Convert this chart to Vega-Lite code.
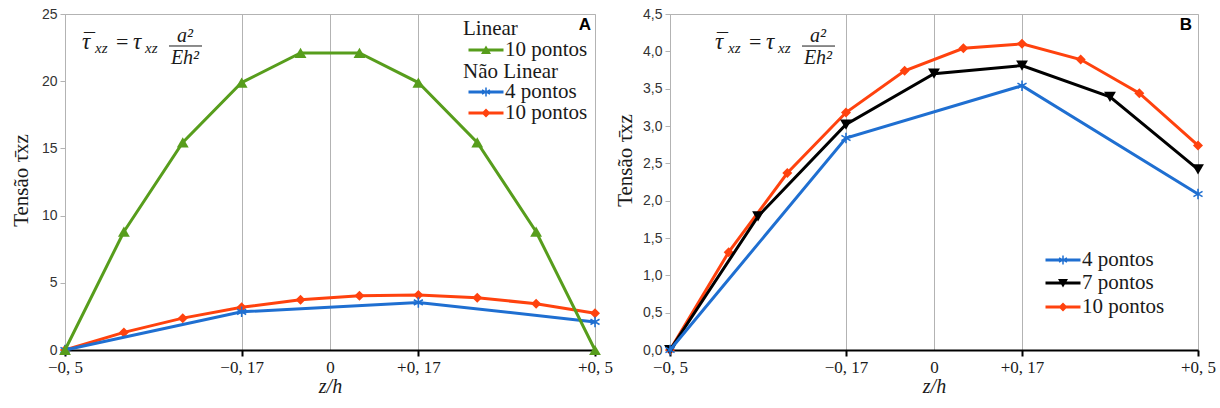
{
  "$schema": "https://vega.github.io/schema/vega-lite/v6.json",
  "background": "white",
  "padding": {"left": 9, "top": 6, "right": 2, "bottom": 2},
  "spacing": 75,
  "bounds": "flush",
  "config": {
    "view": {"stroke": "#b3b3b3", "strokeWidth": 1},
    "axisX": {
      "labelFont": "Liberation Serif", "labelFontSize": 17, "labelColor": "#1a1a1a", "labelPadding": 3,
      "labelFlush": false, "labelOverlap": false,
      "domainColor": "#000000", "domainWidth": 2, "tickColor": "#000000", "tickWidth": 2, "tickSize": 6,
      "grid": true, "gridColor": "#b3b3b3", "gridWidth": 1,
      "titleFont": "Liberation Serif", "titleFontStyle": "italic", "titleFontSize": 20, "titleFontWeight": "normal",
      "titleColor": "#1a1a1a", "titlePadding": 1
    },
    "axisY": {
      "labelFont": "Liberation Sans", "labelFontSize": 14, "labelColor": "#333333", "labelPadding": 3, "labelOverlap": false,
      "tickColor": "#b3b3b3", "tickSize": 5, "domainColor": "#b3b3b3", "grid": false,
      "titleFont": "Liberation Serif", "titleFontSize": 21, "titleFontWeight": "normal", "titleColor": "#1a1a1a",
      "titleBaseline": "middle", "titleAngle": 270
    },
    "legend": {
      "orient": "none", "padding": 0,
      "titleFont": "Liberation Serif", "titleFontSize": 21, "titleFontWeight": "normal", "titleColor": "#1a1a1a", "titlePadding": 1,
      "labelFont": "Liberation Serif", "labelFontSize": 21, "labelColor": "#1a1a1a",
      "symbolSize": 100, "labelOffset": 21, "symbolOpacity": 1
    },
    "text": {"font": "Liberation Serif", "fontStyle": "italic", "color": "#1a1a1a", "baseline": "alphabetic"}
  },
  "datasets": {
    "d": [
      {"tipo": "Não Linear", "serie": "10 pontos", "z": -0.5, "t": 0},
      {"tipo": "Não Linear", "serie": "10 pontos", "z": -0.3889, "t": 1.31},
      {"tipo": "Não Linear", "serie": "10 pontos", "z": -0.2778, "t": 2.37},
      {"tipo": "Não Linear", "serie": "10 pontos", "z": -0.1667, "t": 3.18},
      {"tipo": "Não Linear", "serie": "10 pontos", "z": -0.0556, "t": 3.74},
      {"tipo": "Não Linear", "serie": "10 pontos", "z": 0.0556, "t": 4.04},
      {"tipo": "Não Linear", "serie": "10 pontos", "z": 0.1667, "t": 4.10},
      {"tipo": "Não Linear", "serie": "10 pontos", "z": 0.2778, "t": 3.89},
      {"tipo": "Não Linear", "serie": "10 pontos", "z": 0.3889, "t": 3.44},
      {"tipo": "Não Linear", "serie": "10 pontos", "z": 0.5, "t": 2.74},
      {"tipo": "Não Linear", "serie": "7 pontos", "z": -0.5, "t": 0},
      {"tipo": "Não Linear", "serie": "7 pontos", "z": -0.3333, "t": 1.79},
      {"tipo": "Não Linear", "serie": "7 pontos", "z": -0.1667, "t": 3.02},
      {"tipo": "Não Linear", "serie": "7 pontos", "z": 0, "t": 3.70},
      {"tipo": "Não Linear", "serie": "7 pontos", "z": 0.1667, "t": 3.81},
      {"tipo": "Não Linear", "serie": "7 pontos", "z": 0.3333, "t": 3.39},
      {"tipo": "Não Linear", "serie": "7 pontos", "z": 0.5, "t": 2.42},
      {"tipo": "Não Linear", "serie": "4 pontos", "z": -0.5, "t": 0},
      {"tipo": "Não Linear", "serie": "4 pontos", "z": -0.1667, "t": 2.84},
      {"tipo": "Não Linear", "serie": "4 pontos", "z": 0.1667, "t": 3.54},
      {"tipo": "Não Linear", "serie": "4 pontos", "z": 0.5, "t": 2.09},
      {"tipo": "Linear", "serie": "10 pontos", "z": -0.5, "t": 0},
      {"tipo": "Linear", "serie": "10 pontos", "z": -0.3889, "t": 8.8},
      {"tipo": "Linear", "serie": "10 pontos", "z": -0.2778, "t": 15.45},
      {"tipo": "Linear", "serie": "10 pontos", "z": -0.1667, "t": 19.9},
      {"tipo": "Linear", "serie": "10 pontos", "z": -0.0556, "t": 22.1},
      {"tipo": "Linear", "serie": "10 pontos", "z": 0.0556, "t": 22.1},
      {"tipo": "Linear", "serie": "10 pontos", "z": 0.1667, "t": 19.9},
      {"tipo": "Linear", "serie": "10 pontos", "z": 0.2778, "t": 15.45},
      {"tipo": "Linear", "serie": "10 pontos", "z": 0.3889, "t": 8.8},
      {"tipo": "Linear", "serie": "10 pontos", "z": 0.5, "t": 0}
    ]
  },
  "hconcat": [
    {
      "width": 530,
      "height": 336,
      "layer": [
        {
          "data": {"name": "d"},
          "transform": [{"filter": "datum.tipo == 'Não Linear' && datum.serie == '10 pontos'"}],
          "encoding": {
            "x": {"field": "z", "type": "quantitative", "scale": {"domain": [-0.5, 0.5], "nice": false, "zero": false},
              "axis": {"values": [-0.5, -0.16667, 0, 0.16667, 0.5], "title": "z/h",
                "labelExpr": "datum.value < -0.4 ? '−0, 5' : datum.value < -0.1 ? '−0, 17' : datum.value < 0.1 ? '0' : datum.value < 0.4 ? '+0, 17' : '+0, 5'",
                "tickOpacity": {"condition": {"test": "datum.value == 0", "value": 0}, "value": 1}}},
            "y": {"field": "t", "type": "quantitative", "scale": {"domain": [0, 25], "nice": false},
              "axis": {"values": [0, 5, 10, 15, 20, 25], "title": "Tensão τ̄xz", "titleX": -44, "titleY": 166}}
          },
          "layer": [
            {"mark": {"type": "line", "strokeWidth": 3, "color": "#ff420e"}},
            {"mark": {"type": "point", "filled": true, "opacity": 1, "size": 100, "shape": "diamond"},
              "encoding": {"color": {"field": "serie", "type": "nominal", "scale": {"domain": ["10 pontos"], "range": ["#ff420e"]},
                "legend": {"title": null, "legendX": 398, "legendY": 88.5,
                  "symbolType": "M-1,-0.3H6V0.3H-1ZM2.5,-0.9L3.4,0L2.5,0.9L1.6,0Z"}}}}
          ]
        },
        {
          "data": {"name": "d"},
          "transform": [{"filter": "datum.tipo == 'Não Linear' && datum.serie == '4 pontos'"}],
          "encoding": {
            "x": {"field": "z", "type": "quantitative", "scale": {"domain": [-0.5, 0.5], "nice": false, "zero": false},
              "axis": {"values": [-0.5, -0.16667, 0, 0.16667, 0.5], "title": "z/h",
                "labelExpr": "datum.value < -0.4 ? '−0, 5' : datum.value < -0.1 ? '−0, 17' : datum.value < 0.1 ? '0' : datum.value < 0.4 ? '+0, 17' : '+0, 5'",
                "tickOpacity": {"condition": {"test": "datum.value == 0", "value": 0}, "value": 1}}},
            "y": {"field": "t", "type": "quantitative", "scale": {"domain": [0, 25], "nice": false},
              "axis": {"values": [0, 5, 10, 15, 20, 25], "title": "Tensão τ̄xz", "titleX": -44, "titleY": 166}}
          },
          "layer": [
            {"mark": {"type": "line", "strokeWidth": 3, "color": "#1f6fd1"}},
            {"mark": {"type": "point", "filled": true, "opacity": 1, "size": 110,
                "shape": "M-0.15,-1H0.15V1H-0.15ZM-0.791,-0.63L0.941,0.37L0.791,0.63L-0.941,-0.37ZM-0.941,0.37L0.791,-0.63L0.941,-0.37L-0.791,0.63Z"},
              "encoding": {"color": {"field": "serie", "type": "nominal", "scale": {"domain": ["4 pontos"], "range": ["#1f6fd1"]},
                "legend": {"title": "Não Linear", "legendX": 398, "legendY": 46.5, "titlePadding": 0,
                  "symbolType": "M-1,-0.3H6V0.3H-1ZM2.35,-0.9H2.65V0.9H2.35ZM1.79,-0.57L3.35,0.33L3.21,0.57L1.65,-0.33ZM1.65,0.33L3.21,-0.57L3.35,-0.33L1.79,0.57Z"}}}}
          ]
        },
        {
          "data": {"name": "d"},
          "transform": [{"filter": "datum.tipo == 'Linear'"}],
          "encoding": {
            "x": {"field": "z", "type": "quantitative", "scale": {"domain": [-0.5, 0.5], "nice": false, "zero": false},
              "axis": {"values": [-0.5, -0.16667, 0, 0.16667, 0.5], "title": "z/h",
                "labelExpr": "datum.value < -0.4 ? '−0, 5' : datum.value < -0.1 ? '−0, 17' : datum.value < 0.1 ? '0' : datum.value < 0.4 ? '+0, 17' : '+0, 5'",
                "tickOpacity": {"condition": {"test": "datum.value == 0", "value": 0}, "value": 1}}},
            "y": {"field": "t", "type": "quantitative", "scale": {"domain": [0, 25], "nice": false},
              "axis": {"values": [0, 5, 10, 15, 20, 25], "title": "Tensão τ̄xz", "titleX": -44, "titleY": 166}}
          },
          "layer": [
            {"mark": {"type": "line", "strokeWidth": 3, "color": "#579d1c"}},
            {"mark": {"type": "point", "filled": true, "opacity": 1, "size": 140, "shape": "triangle-up"},
              "encoding": {"color": {"field": "serie", "type": "nominal", "scale": {"domain": ["10 pontos"], "range": ["#579d1c"]},
                "legend": {"title": "Linear", "legendX": 398, "legendY": 3.5, "titlePadding": 1,
                  "symbolType": "M-1,-0.3H6V0.3H-1ZM2.5,-0.9L3.5,0.8L1.5,0.8Z"}}}}
          ]
        },
        {
          "data": {"values": [{}]},
          "encoding": {
            "x": {"datum": -0.3038, "type": "quantitative", "scale": {"domain": [-0.5, 0.5], "nice": false, "zero": false},
              "axis": {"values": [-0.5, -0.16667, 0, 0.16667, 0.5], "title": "z/h",
                "labelExpr": "datum.value < -0.4 ? '−0, 5' : datum.value < -0.1 ? '−0, 17' : datum.value < 0.1 ? '0' : datum.value < 0.4 ? '+0, 17' : '+0, 5'",
                "tickOpacity": {"condition": {"test": "datum.value == 0", "value": 0}, "value": 1}}},
            "y": {"datum": 22.62, "type": "quantitative", "scale": {"domain": [0, 25], "nice": false},
              "axis": {"values": [0, 5, 10, 15, 20, 25], "title": "Tensão τ̄xz", "titleX": -44, "titleY": 166}}
          },
          "layer": [
            {"mark": {"type": "text", "text": "¯", "fontStyle": "normal", "fontSize": 22, "align": "left", "dx": -85, "dy": 2}},
            {"mark": {"type": "text", "text": "τ", "fontSize": 23, "align": "left", "dx": -87, "dy": 3}},
            {"mark": {"type": "text", "text": "xz", "fontSize": 15, "align": "left", "dx": -74, "dy": 7}},
            {"mark": {"type": "text", "text": "=", "fontStyle": "normal", "fontSize": 22, "align": "left", "dx": -53, "dy": 3}},
            {"mark": {"type": "text", "text": "τ", "fontSize": 23, "align": "left", "dx": -36, "dy": 3}},
            {"mark": {"type": "text", "text": "xz", "fontSize": 15, "align": "left", "dx": -24, "dy": 7}},
            {"mark": {"type": "text", "text": "a²", "fontSize": 20, "align": "center", "dx": 16, "dy": -4}},
            {"mark": {"type": "text", "text": "Eh²", "fontSize": 20, "align": "center", "dx": 16, "dy": 18}},
            {"mark": {"type": "rule", "color": "#1a1a1a", "strokeWidth": 1}, "encoding": {"x2": {"datum": -0.2415}}}
          ]
        },
        {
          "data": {"values": [{}]},
          "encoding": {
            "x": {"datum": 0.5, "type": "quantitative", "scale": {"domain": [-0.5, 0.5], "nice": false, "zero": false},
              "axis": {"values": [-0.5, -0.16667, 0, 0.16667, 0.5], "title": "z/h",
                "labelExpr": "datum.value < -0.4 ? '−0, 5' : datum.value < -0.1 ? '−0, 17' : datum.value < 0.1 ? '0' : datum.value < 0.4 ? '+0, 17' : '+0, 5'",
                "tickOpacity": {"condition": {"test": "datum.value == 0", "value": 0}, "value": 1}}},
            "y": {"datum": 25, "type": "quantitative", "scale": {"domain": [0, 25], "nice": false},
              "axis": {"values": [0, 5, 10, 15, 20, 25], "title": "Tensão τ̄xz", "titleX": -44, "titleY": 166}}
          },
          "mark": {"type": "text", "text": "A", "font": "Liberation Sans", "fontStyle": "normal", "fontWeight": "bold", "fontSize": 17, "align": "right", "baseline": "top", "dx": -4, "dy": 3, "color": "#000000"}
        }
      ],
      "resolve": {"scale": {"color": "independent"}}
    },
    {
      "width": 528,
      "height": 336,
      "layer": [
        {
          "data": {"name": "d"},
          "transform": [{"filter": "datum.tipo == 'Não Linear' && datum.serie == '10 pontos'"}],
          "encoding": {
            "x": {"field": "z", "type": "quantitative", "scale": {"domain": [-0.5, 0.5], "nice": false, "zero": false},
              "axis": {"values": [-0.5, -0.16667, 0, 0.16667, 0.5], "title": "z/h",
                "labelExpr": "datum.value < -0.4 ? '−0, 5' : datum.value < -0.1 ? '−0, 17' : datum.value < 0.1 ? '0' : datum.value < 0.4 ? '+0, 17' : '+0, 5'",
                "tickOpacity": {"condition": {"test": "datum.value == 0", "value": 0}, "value": 1}}},
            "y": {"field": "t", "type": "quantitative", "scale": {"domain": [0, 4.5], "nice": false},
              "axis": {"values": [0, 0.5, 1, 1.5, 2, 2.5, 3, 3.5, 4, 4.5], "title": "Tensão τ̄xz", "titleX": -45, "titleY": 146,
                "labelExpr": "replace(format(datum.value, '.1f'), '.', ',')"}}
          },
          "layer": [
            {"mark": {"type": "line", "strokeWidth": 3, "color": "#ff420e"}},
            {"mark": {"type": "point", "filled": true, "opacity": 1, "size": 100, "shape": "diamond"},
              "encoding": {"color": {"field": "serie", "type": "nominal", "scale": {"domain": ["10 pontos"], "range": ["#ff420e"]},
                "legend": {"title": null, "legendX": 370, "legendY": 282.5,
                  "symbolType": "M-1,-0.3H6V0.3H-1ZM2.5,-0.9L3.4,0L2.5,0.9L1.6,0Z"}}}}
          ]
        },
        {
          "data": {"name": "d"},
          "transform": [{"filter": "datum.tipo == 'Não Linear' && datum.serie == '7 pontos'"}],
          "encoding": {
            "x": {"field": "z", "type": "quantitative", "scale": {"domain": [-0.5, 0.5], "nice": false, "zero": false},
              "axis": {"values": [-0.5, -0.16667, 0, 0.16667, 0.5], "title": "z/h",
                "labelExpr": "datum.value < -0.4 ? '−0, 5' : datum.value < -0.1 ? '−0, 17' : datum.value < 0.1 ? '0' : datum.value < 0.4 ? '+0, 17' : '+0, 5'",
                "tickOpacity": {"condition": {"test": "datum.value == 0", "value": 0}, "value": 1}}},
            "y": {"field": "t", "type": "quantitative", "scale": {"domain": [0, 4.5], "nice": false},
              "axis": {"values": [0, 0.5, 1, 1.5, 2, 2.5, 3, 3.5, 4, 4.5], "title": "Tensão τ̄xz", "titleX": -45, "titleY": 146,
                "labelExpr": "replace(format(datum.value, '.1f'), '.', ',')"}}
          },
          "layer": [
            {"mark": {"type": "line", "strokeWidth": 3, "color": "#000000"}},
            {"mark": {"type": "point", "filled": true, "opacity": 1, "size": 140, "shape": "triangle-down"},
              "encoding": {"color": {"field": "serie", "type": "nominal", "scale": {"domain": ["7 pontos"], "range": ["#000000"]},
                "legend": {"title": null, "legendX": 370, "legendY": 258.5,
                  "symbolType": "M-1,-0.3H6V0.3H-1ZM2.5,0.9L1.5,-0.8L3.5,-0.8Z"}}}}
          ]
        },
        {
          "data": {"name": "d"},
          "transform": [{"filter": "datum.tipo == 'Não Linear' && datum.serie == '4 pontos'"}],
          "encoding": {
            "x": {"field": "z", "type": "quantitative", "scale": {"domain": [-0.5, 0.5], "nice": false, "zero": false},
              "axis": {"values": [-0.5, -0.16667, 0, 0.16667, 0.5], "title": "z/h",
                "labelExpr": "datum.value < -0.4 ? '−0, 5' : datum.value < -0.1 ? '−0, 17' : datum.value < 0.1 ? '0' : datum.value < 0.4 ? '+0, 17' : '+0, 5'",
                "tickOpacity": {"condition": {"test": "datum.value == 0", "value": 0}, "value": 1}}},
            "y": {"field": "t", "type": "quantitative", "scale": {"domain": [0, 4.5], "nice": false},
              "axis": {"values": [0, 0.5, 1, 1.5, 2, 2.5, 3, 3.5, 4, 4.5], "title": "Tensão τ̄xz", "titleX": -45, "titleY": 146,
                "labelExpr": "replace(format(datum.value, '.1f'), '.', ',')"}}
          },
          "layer": [
            {"mark": {"type": "line", "strokeWidth": 3, "color": "#1f6fd1"}},
            {"mark": {"type": "point", "filled": true, "opacity": 1, "size": 110,
                "shape": "M-0.15,-1H0.15V1H-0.15ZM-0.791,-0.63L0.941,0.37L0.791,0.63L-0.941,-0.37ZM-0.941,0.37L0.791,-0.63L0.941,-0.37L-0.791,0.63Z"},
              "encoding": {"color": {"field": "serie", "type": "nominal", "scale": {"domain": ["4 pontos"], "range": ["#1f6fd1"]},
                "legend": {"title": null, "legendX": 370, "legendY": 235.5,
                  "symbolType": "M-1,-0.3H6V0.3H-1ZM2.35,-0.9H2.65V0.9H2.35ZM1.79,-0.57L3.35,0.33L3.21,0.57L1.65,-0.33ZM1.65,0.33L3.21,-0.57L3.35,-0.33L1.79,0.57Z"}}}}
          ]
        },
        {
          "data": {"values": [{}]},
          "encoding": {
            "x": {"datum": -0.25, "type": "quantitative", "scale": {"domain": [-0.5, 0.5], "nice": false, "zero": false},
              "axis": {"values": [-0.5, -0.16667, 0, 0.16667, 0.5], "title": "z/h",
                "labelExpr": "datum.value < -0.4 ? '−0, 5' : datum.value < -0.1 ? '−0, 17' : datum.value < 0.1 ? '0' : datum.value < 0.4 ? '+0, 17' : '+0, 5'",
                "tickOpacity": {"condition": {"test": "datum.value == 0", "value": 0}, "value": 1}}},
            "y": {"datum": 4.071, "type": "quantitative", "scale": {"domain": [0, 4.5], "nice": false},
              "axis": {"values": [0, 0.5, 1, 1.5, 2, 2.5, 3, 3.5, 4, 4.5], "title": "Tensão τ̄xz", "titleX": -45, "titleY": 146,
                "labelExpr": "replace(format(datum.value, '.1f'), '.', ',')"}}
          },
          "layer": [
            {"mark": {"type": "text", "text": "¯", "fontStyle": "normal", "fontSize": 22, "align": "left", "dx": -85, "dy": 2}},
            {"mark": {"type": "text", "text": "τ", "fontSize": 23, "align": "left", "dx": -87, "dy": 3}},
            {"mark": {"type": "text", "text": "xz", "fontSize": 15, "align": "left", "dx": -74, "dy": 7}},
            {"mark": {"type": "text", "text": "=", "fontStyle": "normal", "fontSize": 22, "align": "left", "dx": -53, "dy": 3}},
            {"mark": {"type": "text", "text": "τ", "fontSize": 23, "align": "left", "dx": -36, "dy": 3}},
            {"mark": {"type": "text", "text": "xz", "fontSize": 15, "align": "left", "dx": -24, "dy": 7}},
            {"mark": {"type": "text", "text": "a²", "fontSize": 20, "align": "center", "dx": 16, "dy": -4}},
            {"mark": {"type": "text", "text": "Eh²", "fontSize": 20, "align": "center", "dx": 16, "dy": 18}},
            {"mark": {"type": "rule", "color": "#1a1a1a", "strokeWidth": 1}, "encoding": {"x2": {"datum": -0.1875}}}
          ]
        },
        {
          "data": {"values": [{}]},
          "encoding": {
            "x": {"datum": 0.5, "type": "quantitative", "scale": {"domain": [-0.5, 0.5], "nice": false, "zero": false},
              "axis": {"values": [-0.5, -0.16667, 0, 0.16667, 0.5], "title": "z/h",
                "labelExpr": "datum.value < -0.4 ? '−0, 5' : datum.value < -0.1 ? '−0, 17' : datum.value < 0.1 ? '0' : datum.value < 0.4 ? '+0, 17' : '+0, 5'",
                "tickOpacity": {"condition": {"test": "datum.value == 0", "value": 0}, "value": 1}}},
            "y": {"datum": 4.5, "type": "quantitative", "scale": {"domain": [0, 4.5], "nice": false},
              "axis": {"values": [0, 0.5, 1, 1.5, 2, 2.5, 3, 3.5, 4, 4.5], "title": "Tensão τ̄xz", "titleX": -45, "titleY": 146,
                "labelExpr": "replace(format(datum.value, '.1f'), '.', ',')"}}
          },
          "mark": {"type": "text", "text": "B", "font": "Liberation Sans", "fontStyle": "normal", "fontWeight": "bold", "fontSize": 17, "align": "right", "baseline": "top", "dx": -6, "dy": 3, "color": "#000000"}
        }
      ],
      "resolve": {"scale": {"color": "independent"}}
    }
  ]
}
